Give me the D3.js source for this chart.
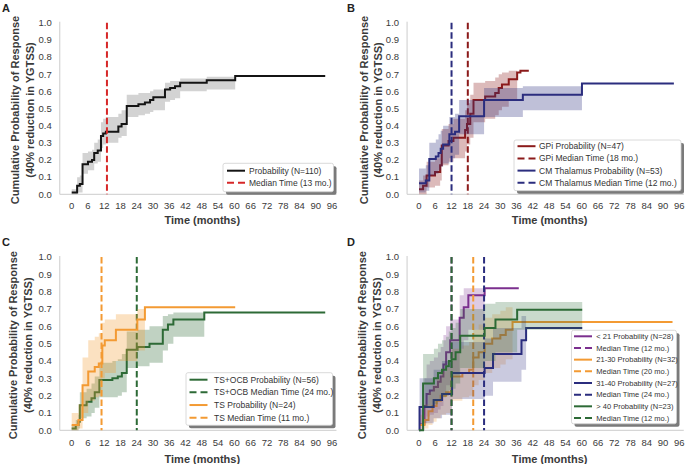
<!DOCTYPE html>
<html><head><meta charset="utf-8">
<script src="https://cdn.jsdelivr.net/npm/d3@7"></script>
<style>body{margin:0;background:#fff} svg{display:block;font-family:"Liberation Sans",Arial,sans-serif}</style>
</head><body><svg id="c" width="688" height="464"></svg>
<script>
// ---------- tick labels ----------
const xTicks = [0, 6, 12, 18, 24, 30, 36, 42, 48, 54, 60, 66, 72, 78, 84, 90, 96];
const yTicks = [0.0, 0.1, 0.2, 0.3, 0.4, 0.5, 0.6, 0.7, 0.8, 0.9, 1.0];

// ---------- Panel A: all patients ----------
const aTime  = [0, 2, 3, 4, 6, 7.5, 8.3, 9.6, 10.8, 11.6, 12.6, 17.2, 18.4, 20.3, 24.6, 27, 28.9, 30.1, 34.4, 36.3, 38.1, 40, 49.8, 60.3, 93.5];
const aProb  = [0.01, 0.05, 0.06, 0.175, 0.19, 0.20, 0.24, 0.255, 0.34, 0.355, 0.365, 0.395, 0.41, 0.515, 0.525, 0.535, 0.55, 0.565, 0.61, 0.62, 0.63, 0.65, 0.665, 0.69, 0.69];
const aLower = [0, 0.01, 0.01, 0.12, 0.14, 0.14, 0.18, 0.19, 0.27, 0.29, 0.30, 0.33, 0.34, 0.45, 0.46, 0.47, 0.48, 0.49, 0.54, 0.55, 0.56, 0.60, 0.61, null, null];
const aUpper = [0.03, 0.10, 0.11, 0.24, 0.25, 0.26, 0.30, 0.32, 0.42, 0.44, 0.45, 0.47, 0.49, 0.58, 0.59, 0.59, 0.60, 0.61, 0.65, 0.66, 0.66, 0.675, 0.685, null, null];
const aMedian = 13;

// ---------- Panel B: GPi vs CM Thalamus ----------
const bGpiTime  = [0, 1.5, 2.8, 5.9, 7.8, 8.4, 10.9, 12.7, 17, 17.7, 18.9, 20.1, 24.4, 28.1, 29.4, 30.6, 33.1, 36.2, 37.4, 40.5];
const bGpiProb  = [0.03, 0.05, 0.11, 0.13, 0.17, 0.285, 0.31, 0.33, 0.375, 0.41, 0.47, 0.55, 0.57, 0.59, 0.62, 0.64, 0.67, 0.71, 0.72, 0.72];
const bGpiLower = [0, 0, 0.04, 0.05, 0.08, 0.17, 0.19, 0.21, 0.25, 0.29, 0.33, 0.42, 0.44, 0.46, 0.49, 0.51, 0.55, null, null, null];
const bGpiUpper = [0.08, 0.11, 0.19, 0.21, 0.26, 0.38, 0.41, 0.44, 0.49, 0.53, 0.58, 0.65, 0.66, 0.68, 0.70, 0.71, 0.72, null, null, null];
const bGpiMedian = 18;
const bCmTime  = [0, 2.5, 3.8, 6.2, 7.2, 8, 8.9, 11.2, 13.3, 14.8, 24, 38.3, 60.1, 94];
const bCmProb  = [0.065, 0.08, 0.205, 0.22, 0.24, 0.265, 0.29, 0.35, 0.365, 0.455, 0.55, 0.58, 0.645, 0.645];
const bCmLower = [0.01, 0.02, 0.11, 0.12, 0.14, 0.16, 0.18, 0.21, 0.23, 0.35, 0.45, 0.49, null, null];
const bCmUpper = [0.15, 0.17, 0.30, 0.32, 0.35, 0.37, 0.40, 0.45, 0.47, 0.55, 0.62, 0.63, null, null];
const bCmMedian = 12;

// ---------- Panel C: TS+OCB vs TS ----------
const cOcbTime  = [0, 1.5, 2.5, 3, 5.5, 7.3, 8.5, 10.2, 15, 17, 18.5, 20.3, 24.3, 28.7, 33.6, 35.5, 37.5, 48.9, 93.5];
const cOcbProb  = [0.01, 0.03, 0.05, 0.145, 0.165, 0.185, 0.22, 0.29, 0.30, 0.31, 0.33, 0.465, 0.48, 0.50, 0.58, 0.61, 0.64, 0.68, 0.68];
const cOcbLower = [0, 0, 0.01, 0.07, 0.08, 0.10, 0.13, 0.19, 0.19, 0.20, 0.22, 0.36, 0.37, 0.39, 0.46, 0.50, 0.54, null, null];
const cOcbUpper = [0.03, 0.06, 0.09, 0.22, 0.24, 0.27, 0.31, 0.39, 0.40, 0.41, 0.44, 0.57, 0.58, 0.60, 0.66, 0.67, 0.68, null, null];
const cOcbMedian = 24;
const cTsTime  = [0, 2.5, 4, 6.1, 8.5, 10, 11.3, 12.2, 16.3, 24.2, 27, 60.3];
const cTsProb  = [0.03, 0.06, 0.26, 0.34, 0.365, 0.385, 0.49, 0.52, 0.58, 0.64, 0.71, 0.71];
const cTsLower = [0, 0.01, 0.10, 0.17, 0.19, 0.20, 0.30, 0.33, 0.40, 0.46, null, null];
const cTsUpper = [0.10, 0.15, 0.42, 0.52, 0.54, 0.56, 0.62, 0.64, 0.67, 0.70, null, null];
const cTsMedian = 11;

// ---------- Panel D: age groups ----------
const dU21Time  = [0, 2, 2.8, 4, 5.5, 7, 8, 9, 10, 11.5, 15, 16.5, 18.2, 24.2, 36.8];
const dU21Prob  = [0.035, 0.14, 0.21, 0.23, 0.25, 0.28, 0.31, 0.38, 0.45, 0.52, 0.65, 0.71, 0.78, 0.82, 0.82];
const dU21Lower = [0, 0.04, 0.08, 0.09, 0.10, 0.12, 0.14, 0.20, 0.26, 0.32, 0.47, 0.52, 0.58, null, null];
const dU21Upper = [0.12, 0.30, 0.38, 0.40, 0.42, 0.45, 0.48, 0.55, 0.60, 0.64, 0.78, 0.82, 0.82, null, null];
const dU21Median = 12;
const d2130Time  = [0, 2, 3.5, 5, 6.5, 8, 10, 12, 16, 18.5, 20, 22, 24.2, 27, 30, 32, 34.5, 93.5];
const d2130Prob  = [0.03, 0.06, 0.11, 0.14, 0.17, 0.20, 0.22, 0.31, 0.33, 0.35, 0.42, 0.45, 0.50, 0.53, 0.55, 0.58, 0.625, 0.625];
const d2130Lower = [0, 0.01, 0.03, 0.05, 0.07, 0.09, 0.10, 0.17, 0.19, 0.20, 0.26, 0.29, 0.33, 0.36, 0.38, 0.41, null, null];
const d2130Upper = [0.09, 0.15, 0.22, 0.26, 0.30, 0.34, 0.36, 0.47, 0.49, 0.51, 0.58, 0.61, 0.65, 0.67, 0.69, 0.71, null, null];
const d2130Median = 20;
const d3140Time  = [0, 0.2, 5.4, 8.5, 12.2, 24.2, 27.3, 37.8, 39.5, 60.2];
const d3140Prob  = [0, 0.135, 0.175, 0.21, 0.33, 0.36, 0.44, 0.52, 0.59, 0.59];
const d3140Lower = [null, 0.04, 0.07, 0.09, 0.18, 0.20, 0.28, 0.35, null, null];
const d3140Upper = [null, 0.30, 0.35, 0.40, 0.51, 0.53, 0.59, 0.66, null, null];
const d3140Median = 24;
const dO40Time  = [0, 1.5, 5.5, 7, 8.5, 10, 11, 12, 13.5, 15.2, 24.2, 28.2, 36.2, 60.2];
const dO40Prob  = [0, 0.27, 0.30, 0.33, 0.35, 0.37, 0.40, 0.41, 0.45, 0.545, 0.59, 0.64, 0.695, 0.695];
const dO40Lower = [null, 0.13, 0.15, 0.17, 0.19, 0.20, 0.23, 0.24, 0.27, 0.36, 0.40, 0.45, 0.58, null];
const dO40Upper = [null, 0.44, 0.47, 0.50, 0.52, 0.54, 0.57, 0.59, 0.62, 0.70, 0.73, 0.74, 0.74, null];
const dO40Median = 12;

// ---------- colours ----------
const C = {black:'#141414', red:'#d62728', gpi:'#8b1a1a', cm:'#2b2d7e', green:'#2d6a36', orange:'#f39a33', purple:'#7b2f8e'};

const svg = d3.select('#c');
const font = '"Liberation Sans", Arial, sans-serif';

const panels = [
  {label:'A', x0:71.7, yb:194.3, yt:22.7, lx:2, ly:12, t1:18.5, t2:34, tickY:209.3, titleY:224,
   series:[{time:aTime, prob:aProb, lo:aLower, hi:aUpper, color:C.black, band:'#808080', bop:0.35, med:aMedian, medColor:C.red}],
   legend:{x:223, y:163.3, w:110.5, h:28.5, row0:170.7, dy:12, fs:8.5, lx:227, tx:249,
     items:[['Probability (N=110)', C.black, false], ['Median Time (13 mo.)', C.red, true]]}},
  {label:'B', x0:419, yb:194.3, yt:22.7, lx:347, ly:12, t1:367.5, t2:382, tickY:209.3, titleY:224,
   series:[{time:bGpiTime, prob:bGpiProb, lo:bGpiLower, hi:bGpiUpper, color:C.gpi, band:C.gpi, bop:0.3, med:bGpiMedian, medColor:C.gpi},
           {time:bCmTime, prob:bCmProb, lo:bCmLower, hi:bCmUpper, color:C.cm, band:C.cm, bop:0.3, med:bCmMedian, medColor:C.cm}],
   legend:{x:514, y:140, w:167, h:50.7, row0:146.2, dy:12.2, fs:8.5, lx:517.5, tx:539,
     items:[['GPi Probability (N=47)', C.gpi, false], ['GPi Median Time (18 mo.)', C.gpi, true],
            ['CM Thalamus Probability (N=53)', C.cm, false], ['CM Thalamus Median Time (12 mo.)', C.cm, true]]}},
  {label:'C', x0:71.7, yb:430.3, yt:257, lx:2, ly:246, t1:17, t2:32, tickY:446, titleY:462.5,
   series:[{time:cOcbTime, prob:cOcbProb, lo:cOcbLower, hi:cOcbUpper, color:C.green, band:C.green, bop:0.3, med:cOcbMedian, medColor:C.green},
           {time:cTsTime, prob:cTsProb, lo:cTsLower, hi:cTsUpper, color:C.orange, band:C.orange, bop:0.3, med:cTsMedian, medColor:C.orange}],
   legend:{x:186, y:372.7, w:146.5, h:52.6, row0:379.7, dy:12.67, fs:8.5, lx:189.5, tx:214,
     items:[['TS+OCB Probability (N=56)', C.green, false], ['TS+OCB Median Time (24 mo.)', C.green, true],
            ['TS Probability (N=24)', C.orange, false], ['TS Median Time (11 mo.)', C.orange, true]]}},
  {label:'D', x0:419, yb:430.3, yt:257, lx:347, ly:246, t1:366, t2:381, tickY:446, titleY:462.5,
   series:[{time:dU21Time, prob:dU21Prob, lo:dU21Lower, hi:dU21Upper, color:C.purple, band:C.purple, bop:0.25, med:dU21Median, medColor:C.purple},
           {time:d2130Time, prob:d2130Prob, lo:d2130Lower, hi:d2130Upper, color:C.orange, band:C.orange, bop:0.25, med:d2130Median, medColor:C.orange},
           {time:d3140Time, prob:d3140Prob, lo:d3140Lower, hi:d3140Upper, color:C.cm, band:C.cm, bop:0.25, med:d3140Median, medColor:C.cm},
           {time:dO40Time, prob:dO40Prob, lo:dO40Lower, hi:dO40Upper, color:C.green, band:C.green, bop:0.25, med:dO40Median, medColor:C.green}],
   legend:{x:571.5, y:330.3, w:105, h:93.5, row0:336.3, dy:11.67, fs:7.5, lx:574, tx:596.3,
     items:[['< 21 Probability (N=28)', C.purple, false], ['Median Time (12 mo.)', C.purple, true],
            ['21-30 Probability (N=32)', C.orange, false], ['Median Time (20 mo.)', C.orange, true],
            ['31-40 Probability (N=27)', C.cm, false], ['Median Time (24 mo.)', C.cm, true],
            ['> 40 Probability (N=23)', C.green, false], ['Median Time (12 mo.)', C.green, true]]}}
];

panels.forEach(p => {
  const g = svg.append('g');
  const x = d3.scaleLinear().domain([0, 96]).range([p.x0, p.x0 + 260.3]);
  const y = d3.scaleLinear().domain([0, 1]).range([p.yb, p.yt]);
  const xl = x(-4.4), xr = x(97.65);

  // spines
  g.append('line').attr('x1', xl).attr('x2', xl).attr('y1', y(1) - 1).attr('y2', y(0)).attr('stroke', '#cccccc').attr('stroke-width', 1);
  g.append('line').attr('x1', xl).attr('x2', xr).attr('y1', y(0)).attr('y2', y(0)).attr('stroke', '#cccccc').attr('stroke-width', 1);

  // tick labels
  g.selectAll('.yt').data(yTicks).enter().append('text')
    .attr('x', xl - 8).attr('y', d => y(d)).attr('dy', '0.35em').attr('text-anchor', 'end')
    .attr('font-size', 9.5).attr('fill', '#3a3a3a').text(d => d.toFixed(1));
  g.selectAll('.xt').data(xTicks).enter().append('text')
    .attr('x', d => x(d)).attr('y', p.tickY).attr('text-anchor', 'middle')
    .attr('font-size', 9.5).attr('fill', '#3a3a3a').text(d => d);

  // titles
  g.append('text').attr('x', (x(0) + x(96)) / 2 + 0.5).attr('y', p.titleY).attr('text-anchor', 'middle')
    .attr('font-size', 11).attr('font-weight', 'bold').attr('fill', '#3a3a3a').text('Time (months)');
  const cy = (y(0) + y(1)) / 2 + 1.5;
  g.append('text').attr('transform', `translate(${p.t1},${cy}) rotate(-90)`).attr('text-anchor', 'middle')
    .attr('font-size', 11).attr('font-weight', 'bold').attr('fill', '#3a3a3a').text('Cumulative Probability of Response');
  g.append('text').attr('transform', `translate(${p.t2},${cy}) rotate(-90)`).attr('text-anchor', 'middle')
    .attr('font-size', 11).attr('font-weight', 'bold').attr('fill', '#3a3a3a').text('(40% reduction in YGTSS)');
  g.append('text').attr('x', p.lx).attr('y', p.ly).attr('font-size', 11).attr('font-weight', 'bold').attr('fill', '#222').text(p.label);

  const line = d3.line().curve(d3.curveStepAfter).x(d => x(d[0])).y(d => y(d[1]));
  const area = d3.area().curve(d3.curveStepAfter).x(d => x(d[0])).y0(d => y(d[1])).y1(d => y(d[2]));

  p.series.forEach(s => {
    // confidence band
    const pts = [];
    for (let i = 0; i < s.time.length; i++) {
      if (s.lo[i] == null) continue;
      pts.push([s.time[i], s.lo[i], s.hi[i]]);
      if (i + 1 < s.time.length && s.lo[i + 1] == null) pts.push([s.time[i + 1], s.lo[i], s.hi[i]]);
    }
    g.append('path').attr('d', area(pts)).attr('fill', s.band).attr('fill-opacity', s.bop).attr('stroke', 'none');
    // probability step line
    g.append('path').attr('d', line(s.time.map((t, i) => [t, s.prob[i]])))
      .attr('fill', 'none').attr('stroke', s.color).attr('stroke-width', 2).attr('stroke-linejoin', 'miter');
    // median
    g.append('line').attr('x1', x(s.med)).attr('x2', x(s.med)).attr('y1', y(1)).attr('y2', y(0))
      .attr('stroke', s.medColor).attr('stroke-width', 2).attr('stroke-dasharray', '6.5,3');
  });

  // legend
  const L = p.legend;
  g.append('rect').attr('x', L.x + 3).attr('y', L.y + 3).attr('width', L.w).attr('height', L.h).attr('rx', 2).attr('fill', '#7a7a7a');
  g.append('rect').attr('x', L.x).attr('y', L.y).attr('width', L.w).attr('height', L.h).attr('rx', 2)
    .attr('fill', '#ffffff').attr('stroke', '#d0d0d0').attr('stroke-width', 0.8);
  L.items.forEach((it, i) => {
    const ry = L.row0 + i * L.dy;
    g.append('line').attr('x1', L.lx).attr('x2', L.lx + 18).attr('y1', ry).attr('y2', ry)
      .attr('stroke', it[1]).attr('stroke-width', 2).attr('stroke-dasharray', it[2] ? '7,4' : null);
    g.append('text').attr('x', L.tx).attr('y', ry).attr('dy', '0.35em').attr('font-size', L.fs).attr('fill', '#333').text(it[0]);
  });
});
</script></body></html>
